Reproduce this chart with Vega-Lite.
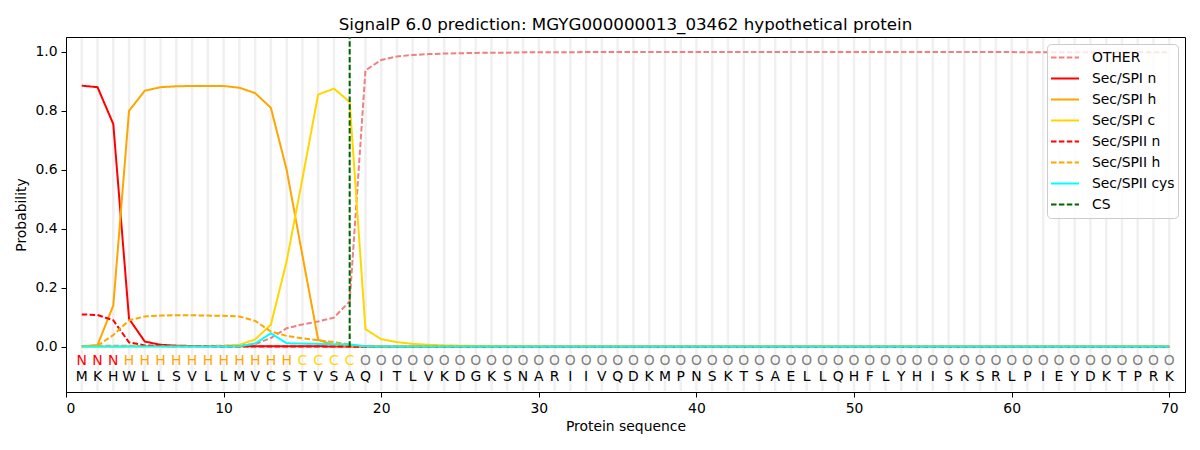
{
  "$schema": "https://vega.github.io/schema/vega-lite/v6.json",
  "width": 1119,
  "height": 355,
  "autosize": {"type": "none"},
  "padding": {"left": 66, "top": 37, "right": 15, "bottom": 58},
  "title": {
    "text": "SignalP 6.0 prediction: MGYG000000013_03462 hypothetical protein",
    "fontSize": 16.7,
    "fontWeight": "normal",
    "color": "black",
    "offset": 2
  },
  "config": {
    "font": "DejaVu Sans",
    "view": {"stroke": "black", "strokeWidth": 1},
    "axis": {
      "grid": false,
      "zindex": 1,
      "domainColor": "black",
      "tickColor": "black",
      "tickSize": 5,
      "labelColor": "black",
      "labelFontSize": 13.9,
      "labelPadding": 4,
      "titleColor": "black",
      "titleFontSize": 13.9,
      "titleFontWeight": "normal"
    },
    "legend": {
      "orient": "none",
      "legendX": 981,
      "legendY": 7,
      "title": null,
      "strokeColor": "#cccccc",
      "fillColor": "rgba(255,255,255,0.8)",
      "cornerRadius": 4,
      "padding": 3,
      "labelFontSize": 13.9,
      "labelColor": "black",
      "symbolType": "stroke",
      "symbolStrokeWidth": 2,
      "symbolSize": 784,
      "clipHeight": 21,
      "rowPadding": 0,
      "labelOffset": 12
    }
  },
  "datasets": {
    "residues": [
      {"pos": 1, "aa": "M", "label": "N", "other": 0.003, "spi_n": 0.885, "spi_h": 0.002, "spi_c": 0.000, "spii_n": 0.110, "spii_h": 0.002, "spii_cys": 0.001},
      {"pos": 2, "aa": "K", "label": "N", "other": 0.003, "spi_n": 0.880, "spi_h": 0.006, "spi_c": 0.000, "spii_n": 0.108, "spii_h": 0.004, "spii_cys": 0.001},
      {"pos": 3, "aa": "H", "label": "N", "other": 0.004, "spi_n": 0.755, "spi_h": 0.140, "spi_c": 0.000, "spii_n": 0.090, "spii_h": 0.040, "spii_cys": 0.001},
      {"pos": 4, "aa": "W", "label": "H", "other": 0.004, "spi_n": 0.095, "spi_h": 0.800, "spi_c": 0.001, "spii_n": 0.015, "spii_h": 0.090, "spii_cys": 0.001},
      {"pos": 5, "aa": "L", "label": "H", "other": 0.003, "spi_n": 0.018, "spi_h": 0.868, "spi_c": 0.001, "spii_n": 0.005, "spii_h": 0.103, "spii_cys": 0.001},
      {"pos": 6, "aa": "L", "label": "H", "other": 0.003, "spi_n": 0.007, "spi_h": 0.880, "spi_c": 0.001, "spii_n": 0.003, "spii_h": 0.106, "spii_cys": 0.001},
      {"pos": 7, "aa": "S", "label": "H", "other": 0.003, "spi_n": 0.004, "spi_h": 0.883, "spi_c": 0.001, "spii_n": 0.002, "spii_h": 0.107, "spii_cys": 0.001},
      {"pos": 8, "aa": "V", "label": "H", "other": 0.003, "spi_n": 0.003, "spi_h": 0.884, "spi_c": 0.001, "spii_n": 0.002, "spii_h": 0.107, "spii_cys": 0.001},
      {"pos": 9, "aa": "L", "label": "H", "other": 0.003, "spi_n": 0.002, "spi_h": 0.884, "spi_c": 0.002, "spii_n": 0.002, "spii_h": 0.106, "spii_cys": 0.001},
      {"pos": 10, "aa": "L", "label": "H", "other": 0.004, "spi_n": 0.002, "spi_h": 0.884, "spi_c": 0.003, "spii_n": 0.001, "spii_h": 0.105, "spii_cys": 0.001},
      {"pos": 11, "aa": "M", "label": "H", "other": 0.005, "spi_n": 0.002, "spi_h": 0.878, "spi_c": 0.007, "spii_n": 0.001, "spii_h": 0.103, "spii_cys": 0.002},
      {"pos": 12, "aa": "V", "label": "H", "other": 0.009, "spi_n": 0.002, "spi_h": 0.860, "spi_c": 0.025, "spii_n": 0.001, "spii_h": 0.088, "spii_cys": 0.011},
      {"pos": 13, "aa": "C", "label": "H", "other": 0.030, "spi_n": 0.002, "spi_h": 0.810, "spi_c": 0.075, "spii_n": 0.001, "spii_h": 0.052, "spii_cys": 0.046},
      {"pos": 14, "aa": "S", "label": "H", "other": 0.063, "spi_n": 0.002, "spi_h": 0.600, "spi_c": 0.290, "spii_n": 0.001, "spii_h": 0.037, "spii_cys": 0.012},
      {"pos": 15, "aa": "T", "label": "C", "other": 0.076, "spi_n": 0.002, "spi_h": 0.310, "spi_c": 0.570, "spii_n": 0.001, "spii_h": 0.029, "spii_cys": 0.011},
      {"pos": 16, "aa": "V", "label": "C", "other": 0.086, "spi_n": 0.002, "spi_h": 0.024, "spi_c": 0.855, "spii_n": 0.001, "spii_h": 0.022, "spii_cys": 0.010},
      {"pos": 17, "aa": "S", "label": "C", "other": 0.099, "spi_n": 0.001, "spi_h": 0.006, "spi_c": 0.875, "spii_n": 0.001, "spii_h": 0.016, "spii_cys": 0.009},
      {"pos": 18, "aa": "A", "label": "C", "other": 0.154, "spi_n": 0.001, "spi_h": 0.003, "spi_c": 0.830, "spii_n": 0.001, "spii_h": 0.008, "spii_cys": 0.008},
      {"pos": 19, "aa": "Q", "label": "O", "other": 0.937, "spi_n": 0.001, "spi_h": 0.001, "spi_c": 0.060, "spii_n": 0.000, "spii_h": 0.001, "spii_cys": 0.002},
      {"pos": 20, "aa": "I", "label": "O", "other": 0.972, "spi_n": 0.000, "spi_h": 0.001, "spi_c": 0.026, "spii_n": 0.000, "spii_h": 0.000, "spii_cys": 0.001},
      {"pos": 21, "aa": "T", "label": "O", "other": 0.984, "spi_n": 0.000, "spi_h": 0.000, "spi_c": 0.016, "spii_n": 0.000, "spii_h": 0.000, "spii_cys": 0.001},
      {"pos": 22, "aa": "L", "label": "O", "other": 0.989, "spi_n": 0.000, "spi_h": 0.000, "spi_c": 0.010, "spii_n": 0.000, "spii_h": 0.000, "spii_cys": 0.001},
      {"pos": 23, "aa": "V", "label": "O", "other": 0.992, "spi_n": 0.000, "spi_h": 0.000, "spi_c": 0.007, "spii_n": 0.000, "spii_h": 0.000, "spii_cys": 0.001},
      {"pos": 24, "aa": "K", "label": "O", "other": 0.994, "spi_n": 0.000, "spi_h": 0.000, "spi_c": 0.005, "spii_n": 0.000, "spii_h": 0.000, "spii_cys": 0.001},
      {"pos": 25, "aa": "D", "label": "O", "other": 0.995, "spi_n": 0.000, "spi_h": 0.000, "spi_c": 0.004, "spii_n": 0.000, "spii_h": 0.000, "spii_cys": 0.001},
      {"pos": 26, "aa": "G", "label": "O", "other": 0.996, "spi_n": 0.000, "spi_h": 0.000, "spi_c": 0.003, "spii_n": 0.000, "spii_h": 0.000, "spii_cys": 0.001},
      {"pos": 27, "aa": "K", "label": "O", "other": 0.997, "spi_n": 0.000, "spi_h": 0.000, "spi_c": 0.003, "spii_n": 0.000, "spii_h": 0.000, "spii_cys": 0.001},
      {"pos": 28, "aa": "S", "label": "O", "other": 0.997, "spi_n": 0.000, "spi_h": 0.000, "spi_c": 0.002, "spii_n": 0.000, "spii_h": 0.000, "spii_cys": 0.001},
      {"pos": 29, "aa": "N", "label": "O", "other": 0.998, "spi_n": 0.000, "spi_h": 0.000, "spi_c": 0.002, "spii_n": 0.000, "spii_h": 0.000, "spii_cys": 0.001},
      {"pos": 30, "aa": "A", "label": "O", "other": 0.998, "spi_n": 0.000, "spi_h": 0.000, "spi_c": 0.002, "spii_n": 0.000, "spii_h": 0.000, "spii_cys": 0.001},
      {"pos": 31, "aa": "R", "label": "O", "other": 0.998, "spi_n": 0.000, "spi_h": 0.000, "spi_c": 0.001, "spii_n": 0.000, "spii_h": 0.000, "spii_cys": 0.001},
      {"pos": 32, "aa": "I", "label": "O", "other": 0.998, "spi_n": 0.000, "spi_h": 0.000, "spi_c": 0.001, "spii_n": 0.000, "spii_h": 0.000, "spii_cys": 0.001},
      {"pos": 33, "aa": "I", "label": "O", "other": 0.999, "spi_n": 0.000, "spi_h": 0.000, "spi_c": 0.001, "spii_n": 0.000, "spii_h": 0.000, "spii_cys": 0.001},
      {"pos": 34, "aa": "V", "label": "O", "other": 0.999, "spi_n": 0.000, "spi_h": 0.000, "spi_c": 0.001, "spii_n": 0.000, "spii_h": 0.000, "spii_cys": 0.001},
      {"pos": 35, "aa": "Q", "label": "O", "other": 0.999, "spi_n": 0.000, "spi_h": 0.000, "spi_c": 0.001, "spii_n": 0.000, "spii_h": 0.000, "spii_cys": 0.001},
      {"pos": 36, "aa": "D", "label": "O", "other": 0.999, "spi_n": 0.000, "spi_h": 0.000, "spi_c": 0.001, "spii_n": 0.000, "spii_h": 0.000, "spii_cys": 0.001},
      {"pos": 37, "aa": "K", "label": "O", "other": 0.999, "spi_n": 0.000, "spi_h": 0.000, "spi_c": 0.001, "spii_n": 0.000, "spii_h": 0.000, "spii_cys": 0.001},
      {"pos": 38, "aa": "M", "label": "O", "other": 0.999, "spi_n": 0.000, "spi_h": 0.000, "spi_c": 0.001, "spii_n": 0.000, "spii_h": 0.000, "spii_cys": 0.001},
      {"pos": 39, "aa": "P", "label": "O", "other": 0.999, "spi_n": 0.000, "spi_h": 0.000, "spi_c": 0.001, "spii_n": 0.000, "spii_h": 0.000, "spii_cys": 0.001},
      {"pos": 40, "aa": "N", "label": "O", "other": 0.999, "spi_n": 0.000, "spi_h": 0.000, "spi_c": 0.001, "spii_n": 0.000, "spii_h": 0.000, "spii_cys": 0.001},
      {"pos": 41, "aa": "S", "label": "O", "other": 0.999, "spi_n": 0.000, "spi_h": 0.000, "spi_c": 0.001, "spii_n": 0.000, "spii_h": 0.000, "spii_cys": 0.001},
      {"pos": 42, "aa": "K", "label": "O", "other": 0.999, "spi_n": 0.000, "spi_h": 0.000, "spi_c": 0.001, "spii_n": 0.000, "spii_h": 0.000, "spii_cys": 0.001},
      {"pos": 43, "aa": "T", "label": "O", "other": 0.999, "spi_n": 0.000, "spi_h": 0.000, "spi_c": 0.001, "spii_n": 0.000, "spii_h": 0.000, "spii_cys": 0.001},
      {"pos": 44, "aa": "S", "label": "O", "other": 0.999, "spi_n": 0.000, "spi_h": 0.000, "spi_c": 0.001, "spii_n": 0.000, "spii_h": 0.000, "spii_cys": 0.001},
      {"pos": 45, "aa": "A", "label": "O", "other": 0.999, "spi_n": 0.000, "spi_h": 0.000, "spi_c": 0.001, "spii_n": 0.000, "spii_h": 0.000, "spii_cys": 0.001},
      {"pos": 46, "aa": "E", "label": "O", "other": 0.999, "spi_n": 0.000, "spi_h": 0.000, "spi_c": 0.001, "spii_n": 0.000, "spii_h": 0.000, "spii_cys": 0.001},
      {"pos": 47, "aa": "L", "label": "O", "other": 0.999, "spi_n": 0.000, "spi_h": 0.000, "spi_c": 0.001, "spii_n": 0.000, "spii_h": 0.000, "spii_cys": 0.001},
      {"pos": 48, "aa": "L", "label": "O", "other": 0.999, "spi_n": 0.000, "spi_h": 0.000, "spi_c": 0.001, "spii_n": 0.000, "spii_h": 0.000, "spii_cys": 0.001},
      {"pos": 49, "aa": "Q", "label": "O", "other": 0.999, "spi_n": 0.000, "spi_h": 0.000, "spi_c": 0.001, "spii_n": 0.000, "spii_h": 0.000, "spii_cys": 0.001},
      {"pos": 50, "aa": "H", "label": "O", "other": 0.999, "spi_n": 0.000, "spi_h": 0.000, "spi_c": 0.001, "spii_n": 0.000, "spii_h": 0.000, "spii_cys": 0.001},
      {"pos": 51, "aa": "F", "label": "O", "other": 0.999, "spi_n": 0.000, "spi_h": 0.000, "spi_c": 0.001, "spii_n": 0.000, "spii_h": 0.000, "spii_cys": 0.001},
      {"pos": 52, "aa": "L", "label": "O", "other": 0.999, "spi_n": 0.000, "spi_h": 0.000, "spi_c": 0.001, "spii_n": 0.000, "spii_h": 0.000, "spii_cys": 0.001},
      {"pos": 53, "aa": "Y", "label": "O", "other": 0.999, "spi_n": 0.000, "spi_h": 0.000, "spi_c": 0.001, "spii_n": 0.000, "spii_h": 0.000, "spii_cys": 0.001},
      {"pos": 54, "aa": "H", "label": "O", "other": 0.999, "spi_n": 0.000, "spi_h": 0.000, "spi_c": 0.001, "spii_n": 0.000, "spii_h": 0.000, "spii_cys": 0.001},
      {"pos": 55, "aa": "I", "label": "O", "other": 0.999, "spi_n": 0.000, "spi_h": 0.000, "spi_c": 0.001, "spii_n": 0.000, "spii_h": 0.000, "spii_cys": 0.001},
      {"pos": 56, "aa": "S", "label": "O", "other": 0.999, "spi_n": 0.000, "spi_h": 0.000, "spi_c": 0.001, "spii_n": 0.000, "spii_h": 0.000, "spii_cys": 0.001},
      {"pos": 57, "aa": "K", "label": "O", "other": 0.999, "spi_n": 0.000, "spi_h": 0.000, "spi_c": 0.001, "spii_n": 0.000, "spii_h": 0.000, "spii_cys": 0.001},
      {"pos": 58, "aa": "S", "label": "O", "other": 0.999, "spi_n": 0.000, "spi_h": 0.000, "spi_c": 0.001, "spii_n": 0.000, "spii_h": 0.000, "spii_cys": 0.001},
      {"pos": 59, "aa": "R", "label": "O", "other": 0.999, "spi_n": 0.000, "spi_h": 0.000, "spi_c": 0.001, "spii_n": 0.000, "spii_h": 0.000, "spii_cys": 0.001},
      {"pos": 60, "aa": "L", "label": "O", "other": 0.999, "spi_n": 0.000, "spi_h": 0.000, "spi_c": 0.001, "spii_n": 0.000, "spii_h": 0.000, "spii_cys": 0.001},
      {"pos": 61, "aa": "P", "label": "O", "other": 0.998, "spi_n": 0.000, "spi_h": 0.000, "spi_c": 0.001, "spii_n": 0.000, "spii_h": 0.000, "spii_cys": 0.001},
      {"pos": 62, "aa": "I", "label": "O", "other": 0.998, "spi_n": 0.000, "spi_h": 0.000, "spi_c": 0.001, "spii_n": 0.000, "spii_h": 0.000, "spii_cys": 0.001},
      {"pos": 63, "aa": "E", "label": "O", "other": 0.998, "spi_n": 0.000, "spi_h": 0.000, "spi_c": 0.001, "spii_n": 0.000, "spii_h": 0.000, "spii_cys": 0.001},
      {"pos": 64, "aa": "Y", "label": "O", "other": 0.998, "spi_n": 0.000, "spi_h": 0.000, "spi_c": 0.001, "spii_n": 0.000, "spii_h": 0.000, "spii_cys": 0.001},
      {"pos": 65, "aa": "D", "label": "O", "other": 0.998, "spi_n": 0.000, "spi_h": 0.000, "spi_c": 0.001, "spii_n": 0.000, "spii_h": 0.000, "spii_cys": 0.001},
      {"pos": 66, "aa": "K", "label": "O", "other": 0.998, "spi_n": 0.000, "spi_h": 0.000, "spi_c": 0.001, "spii_n": 0.000, "spii_h": 0.000, "spii_cys": 0.001},
      {"pos": 67, "aa": "T", "label": "O", "other": 0.998, "spi_n": 0.000, "spi_h": 0.000, "spi_c": 0.001, "spii_n": 0.000, "spii_h": 0.000, "spii_cys": 0.001},
      {"pos": 68, "aa": "P", "label": "O", "other": 0.998, "spi_n": 0.000, "spi_h": 0.000, "spi_c": 0.001, "spii_n": 0.000, "spii_h": 0.000, "spii_cys": 0.001},
      {"pos": 69, "aa": "R", "label": "O", "other": 0.998, "spi_n": 0.000, "spi_h": 0.000, "spi_c": 0.001, "spii_n": 0.000, "spii_h": 0.000, "spii_cys": 0.001},
      {"pos": 70, "aa": "K", "label": "O", "other": 0.998, "spi_n": 0.000, "spi_h": 0.000, "spi_c": 0.001, "spii_n": 0.000, "spii_h": 0.000, "spii_cys": 0.001}
    ],
    "cleavage": [{"series": "cs", "pos": 18}]
  },
  "data": {"name": "residues"},
  "layer": [
    {
      "mark": {"type": "rule", "color": "#f0f0f0", "strokeWidth": 2.5},
      "encoding": {
        "x": {"field": "pos", "type": "quantitative", "scale": {"domain": [0, 71], "nice": false, "zero": false}},
        "y": {"datum": -0.15},
        "y2": {"datum": 1.047}
      }
    },
    {
      "transform": [
        {"fold": ["other", "spi_n", "spi_h", "spi_c", "spii_n", "spii_h", "spii_cys"], "as": ["series", "p"]}
      ],
      "mark": {"type": "line", "strokeWidth": 2},
      "encoding": {
        "x": {
          "field": "pos",
          "type": "quantitative",
          "scale": {"domain": [0, 71], "nice": false, "zero": false},
          "axis": {"values": [0, 10, 20, 30, 40, 50, 60, 70], "title": "Protein sequence", "titlePadding": 5}
        },
        "y": {
          "field": "p",
          "type": "quantitative",
          "scale": {"domain": [-0.153, 1.05], "nice": false, "zero": false},
          "axis": {"values": [0, 0.2, 0.4, 0.6, 0.8, 1.0], "format": ".1f", "title": "Probability", "titlePadding": 6}
        },
        "color": {
          "field": "series",
          "type": "nominal",
          "scale": {
            "domain": ["other", "spi_n", "spi_h", "spi_c", "spii_n", "spii_h", "spii_cys", "cs"],
            "range": ["#f08080", "#ff0000", "#ffa500", "#ffd700", "#ff0000", "#ffa500", "#00ffff", "#006400"]
          },
          "legend": {
            "labelExpr": "{'other': 'OTHER', 'spi_n': 'Sec/SPI n', 'spi_h': 'Sec/SPI h', 'spi_c': 'Sec/SPI c', 'spii_n': 'Sec/SPII n', 'spii_h': 'Sec/SPII h', 'spii_cys': 'Sec/SPII cys', 'cs': 'CS'}[datum.label]"
          }
        },
        "strokeDash": {
          "field": "series",
          "type": "nominal",
          "scale": {
            "domain": ["other", "spi_n", "spi_h", "spi_c", "spii_n", "spii_h", "spii_cys", "cs"],
            "range": [[5.5, 2.4], [1, 0], [1, 0], [1, 0], [5.5, 2.4], [5.5, 2.4], [1, 0], [5.5, 2.4]]
          },
          "legend": {
            "labelExpr": "{'other': 'OTHER', 'spi_n': 'Sec/SPI n', 'spi_h': 'Sec/SPI h', 'spi_c': 'Sec/SPI c', 'spii_n': 'Sec/SPII n', 'spii_h': 'Sec/SPII h', 'spii_cys': 'Sec/SPII cys', 'cs': 'CS'}[datum.label]"
          }
        }
      }
    },
    {
      "data": {"name": "cleavage"},
      "mark": {"type": "rule", "strokeWidth": 2},
      "encoding": {
        "x": {"field": "pos", "type": "quantitative"},
        "y": {"datum": 0},
        "y2": {"datum": 1.05},
        "color": {"field": "series", "type": "nominal"},
        "strokeDash": {"field": "series", "type": "nominal"}
      }
    },
    {
      "mark": {"type": "text", "fontSize": 13.9, "color": "black", "baseline": "middle"},
      "encoding": {
        "x": {"field": "pos", "type": "quantitative"},
        "y": {"datum": -0.102},
        "text": {"field": "aa"}
      }
    },
    {
      "mark": {"type": "text", "fontSize": 13.9, "baseline": "middle"},
      "encoding": {
        "x": {"field": "pos", "type": "quantitative"},
        "y": {"datum": -0.047},
        "text": {"field": "label"},
        "color": {
          "condition": [
            {"test": "datum.label === 'N'", "value": "#ff0000"},
            {"test": "datum.label === 'H'", "value": "#ffa500"},
            {"test": "datum.label === 'C'", "value": "#ffd700"}
          ],
          "value": "#808080"
        }
      }
    }
  ]
}
